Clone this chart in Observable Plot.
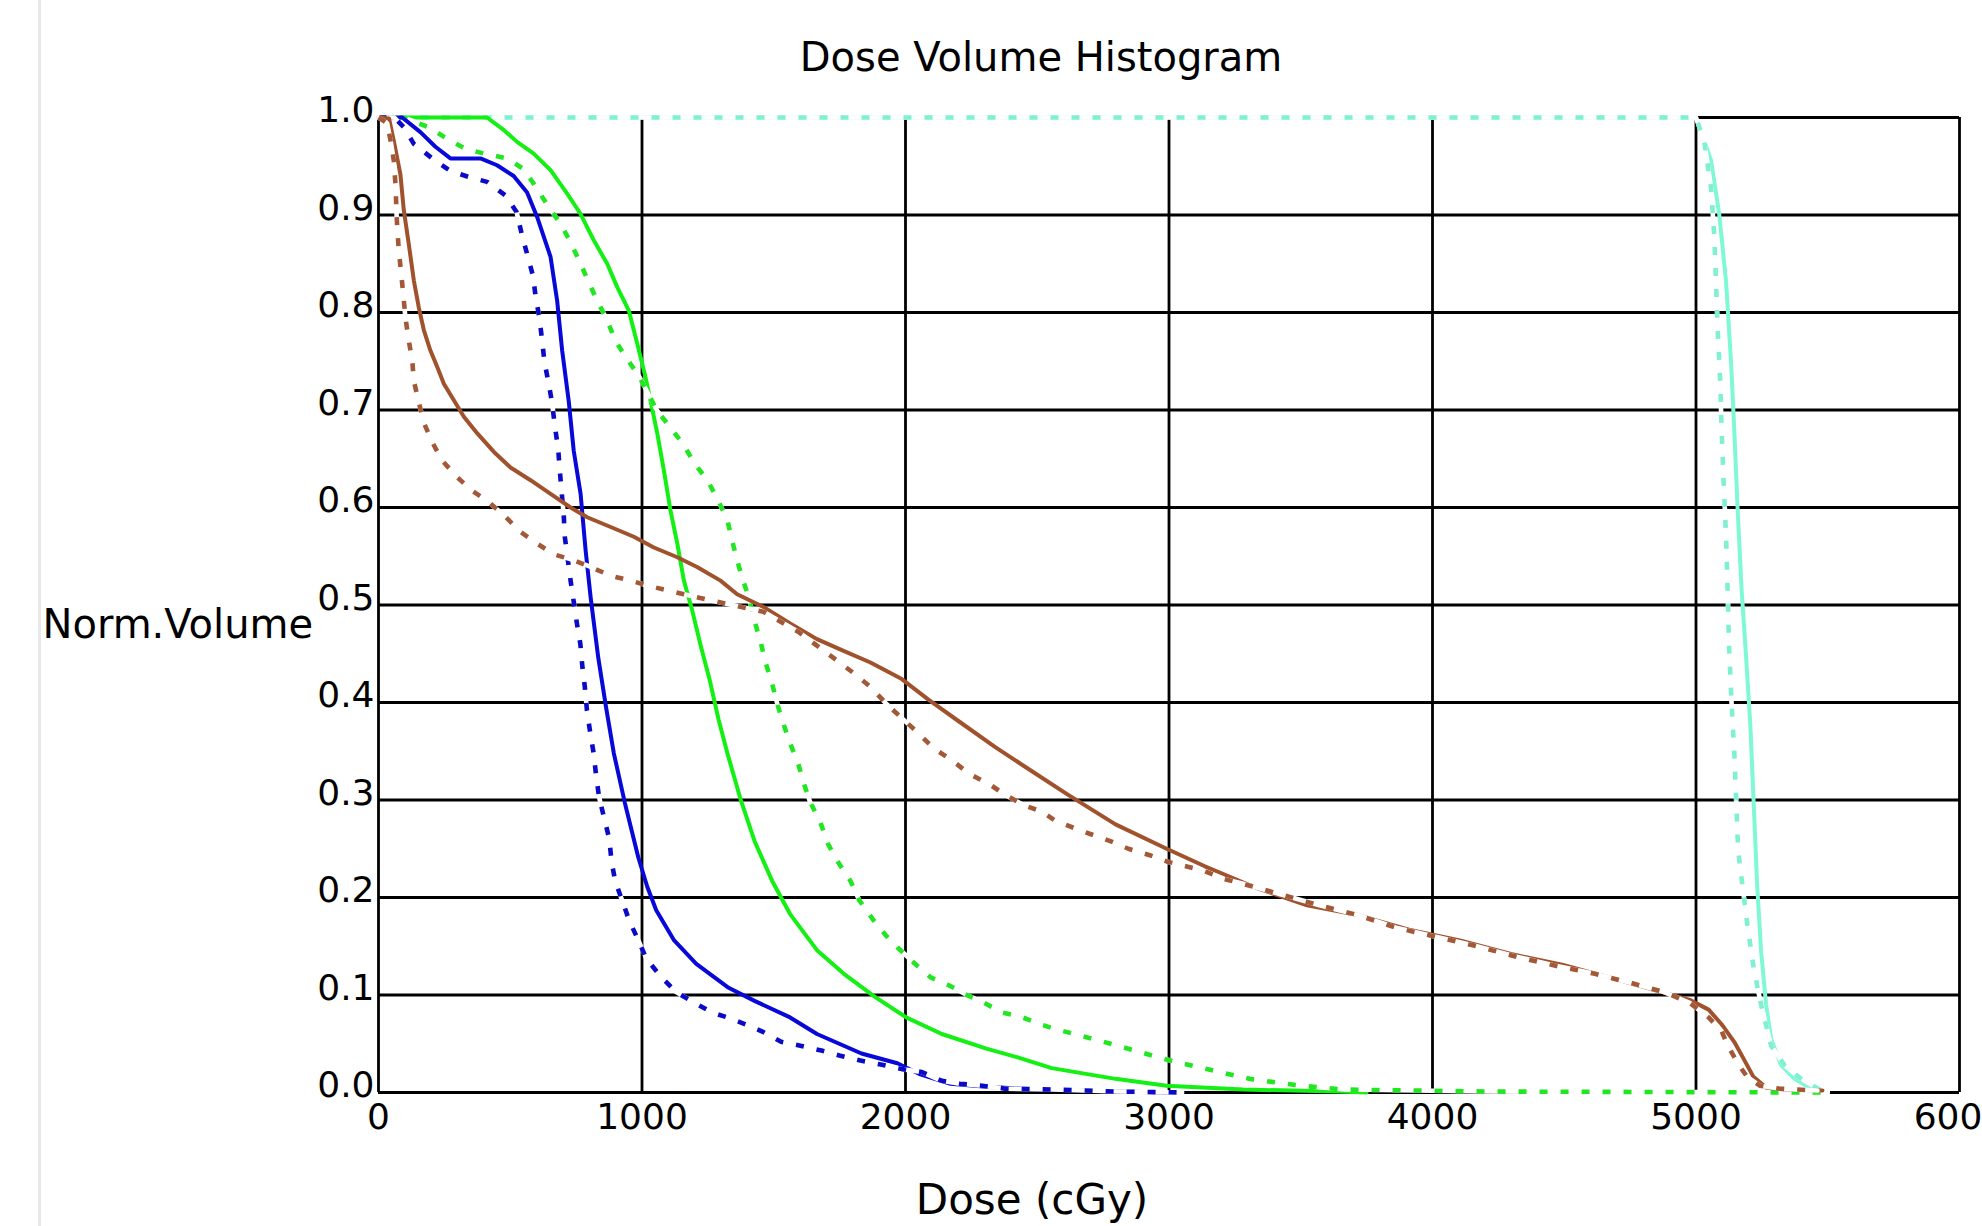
<!DOCTYPE html>
<html>
<head>
<meta charset="utf-8">
<script src="https://cdn.jsdelivr.net/npm/d3@7"></script>
<script src="https://cdn.jsdelivr.net/npm/@observablehq/plot@0.6"></script>
<style>
  html, body { margin: 0; padding: 0; background: #fff; overflow: hidden; }
  #wrap { position: relative; width: 1982px; height: 1226px; }
  #wrap svg { max-width: none; display: block; }
  #edge { position: absolute; left: 38px; top: 0; width: 3px; height: 1226px; background: #e8e8e8; }
</style>
</head>
<body>
<div id="wrap"></div>
<script>
// ---------- data ----------
const titleText = "Dose Volume Histogram";
const xLabel = "Dose (cGy)";
const yLabel = "Norm.Volume";
const xTicks = [0, 1000, 2000, 3000, 4000, 5000, 6000];
const yTicks = [0, 0.1, 0.2, 0.3, 0.4, 0.5, 0.6, 0.7, 0.8, 0.9, 1.0];

const cyanSolidDose = [0, 5000, 5006, 5057, 5088, 5114, 5133, 5145, 5158, 5173, 5190, 5206, 5219, 5232, 5247, 5266, 5285, 5323, 5374, 5437, 5470];
const cyanSolidVol  = [1.0, 1.0, 0.995, 0.956, 0.901, 0.832, 0.749, 0.681, 0.598, 0.516, 0.447, 0.378, 0.296, 0.213, 0.145, 0.090, 0.055, 0.028, 0.014, 0.004, 0];

const cyanDotDose = [0, 5000, 5031, 5057, 5069, 5076, 5082, 5092, 5097, 5105, 5114, 5120, 5126, 5135, 5145, 5152, 5160, 5176, 5195, 5221, 5247, 5285, 5336, 5399, 5462, 5500];
const cyanDotVol  = [1.0, 1.0, 0.976, 0.928, 0.880, 0.832, 0.784, 0.729, 0.681, 0.626, 0.571, 0.516, 0.454, 0.399, 0.351, 0.303, 0.248, 0.213, 0.172, 0.124, 0.090, 0.048, 0.028, 0.014, 0.004, 0];

const greenSolidDose = [0, 412, 476, 526, 589, 653, 716, 767, 817, 868, 906, 950, 982, 1013, 1032, 1058, 1083, 1108, 1134, 1159, 1190, 1224, 1257, 1291, 1325, 1376, 1427, 1494, 1562, 1664, 1765, 1884, 2003, 2138, 2307, 2426, 2555, 2797, 2991, 3281, 3645, 3750];
const greenSolidVol  = [1.0, 1.0, 0.987, 0.975, 0.963, 0.946, 0.922, 0.901, 0.874, 0.850, 0.826, 0.802, 0.768, 0.734, 0.710, 0.676, 0.638, 0.597, 0.563, 0.525, 0.495, 0.457, 0.423, 0.382, 0.347, 0.299, 0.258, 0.217, 0.183, 0.146, 0.122, 0.098, 0.077, 0.060, 0.045, 0.036, 0.025, 0.014, 0.007, 0.003, 0.001, 0];

const greenDotDose = [0, 95, 191, 261, 330, 400, 488, 551, 602, 646, 691, 729, 767, 798, 830, 868, 899, 944, 988, 1058, 1108, 1159, 1197, 1248, 1286, 1324, 1342, 1361, 1380, 1405, 1427, 1452, 1469, 1494, 1515, 1537, 1562, 1591, 1613, 1638, 1677, 1706, 1740, 1791, 1825, 1875, 1926, 1969, 2036, 2096, 2164, 2240, 2291, 2367, 2435, 2511, 2570, 2725, 2870, 3015, 3160, 3306, 3499, 3668, 4200, 5500];
const greenDotVol  = [1.0, 1.0, 0.990, 0.978, 0.968, 0.963, 0.958, 0.947, 0.927, 0.908, 0.891, 0.872, 0.850, 0.831, 0.812, 0.792, 0.771, 0.752, 0.735, 0.699, 0.682, 0.664, 0.646, 0.628, 0.609, 0.587, 0.566, 0.546, 0.528, 0.508, 0.484, 0.460, 0.441, 0.419, 0.397, 0.378, 0.358, 0.339, 0.318, 0.298, 0.277, 0.255, 0.238, 0.217, 0.197, 0.178, 0.161, 0.149, 0.132, 0.118, 0.110, 0.099, 0.093, 0.082, 0.078, 0.070, 0.065, 0.054, 0.043, 0.032, 0.023, 0.014, 0.007, 0.003, 0.001, 0];

const blueSolidDose = [0, 90, 159, 216, 273, 387, 450, 513, 564, 602, 653, 678, 697, 722, 741, 767, 786, 805, 834, 863, 893, 935, 986, 1020, 1054, 1122, 1206, 1325, 1427, 1562, 1664, 1833, 1969, 2053, 2171, 2307, 2500, 2800, 3000];
const blueSolidVol  = [1.0, 1.0, 0.985, 0.970, 0.958, 0.958, 0.951, 0.940, 0.923, 0.898, 0.857, 0.812, 0.761, 0.709, 0.658, 0.614, 0.556, 0.508, 0.446, 0.396, 0.348, 0.297, 0.241, 0.211, 0.187, 0.156, 0.132, 0.108, 0.094, 0.077, 0.060, 0.040, 0.030, 0.019, 0.009, 0.006, 0.003, 0.001, 0];

const blueDotDose = [0, 60, 96, 134, 204, 273, 343, 412, 482, 524, 545, 564, 586, 596, 611, 621, 630, 646, 659, 669, 682, 688, 695, 703, 707, 729, 740, 753, 766, 774, 783, 791, 803, 817, 825, 837, 856, 876, 884, 898, 927, 952, 983, 1017, 1074, 1130, 1186, 1266, 1325, 1401, 1461, 1528, 1601, 1681, 1749, 1825, 1901, 1986, 2062, 2138, 2206, 2291, 2376, 2560, 2800, 3050];
const blueDotVol  = [1.0, 1.0, 0.990, 0.973, 0.958, 0.945, 0.939, 0.934, 0.920, 0.903, 0.879, 0.860, 0.838, 0.817, 0.794, 0.771, 0.749, 0.727, 0.707, 0.684, 0.660, 0.638, 0.616, 0.592, 0.570, 0.525, 0.505, 0.481, 0.460, 0.436, 0.416, 0.392, 0.370, 0.347, 0.327, 0.303, 0.282, 0.260, 0.238, 0.217, 0.195, 0.176, 0.158, 0.137, 0.118, 0.103, 0.094, 0.082, 0.077, 0.069, 0.062, 0.052, 0.048, 0.043, 0.038, 0.033, 0.029, 0.024, 0.021, 0.012, 0.009, 0.007, 0.004, 0.003, 0.001, 0];

const brownSolidDose = [0, 40, 58, 83, 96, 115, 134, 153, 172, 197, 223, 248, 286, 324, 375, 438, 501, 577, 653, 729, 792, 881, 969, 1045, 1134, 1209, 1298, 1361, 1461, 1562, 1664, 1765, 1867, 1986, 2087, 2206, 2342, 2477, 2613, 2797, 2991, 3136, 3330, 3524, 3717, 3911, 4104, 4298, 4492, 4685, 4830, 4976, 5048, 5097, 5145, 5182, 5218, 5266, 5340, 5480];
const brownSolidVol  = [1.0, 0.999, 0.976, 0.942, 0.905, 0.870, 0.833, 0.805, 0.782, 0.761, 0.744, 0.727, 0.710, 0.693, 0.676, 0.657, 0.641, 0.628, 0.614, 0.600, 0.590, 0.580, 0.570, 0.559, 0.549, 0.539, 0.525, 0.511, 0.498, 0.481, 0.465, 0.453, 0.441, 0.424, 0.403, 0.380, 0.354, 0.330, 0.306, 0.275, 0.250, 0.232, 0.210, 0.192, 0.182, 0.167, 0.156, 0.142, 0.131, 0.117, 0.106, 0.095, 0.085, 0.070, 0.052, 0.034, 0.016, 0.005, 0.003, 0.002];

const brownDotDose = [0, 33, 46, 58, 65, 68, 71, 77, 86, 94, 102, 115, 128, 134, 153, 172, 204, 242, 299, 356, 412, 476, 539, 602, 665, 741, 805, 881, 957, 1020, 1096, 1159, 1240, 1325, 1461, 1596, 1681, 1740, 1799, 1867, 1926, 1986, 2047, 2107, 2180, 2241, 2325, 2374, 2446, 2519, 2567, 2652, 2713, 2785, 2846, 2931, 2991, 3064, 3136, 3209, 3281, 3427, 3571, 3716, 3862, 4008, 4153, 4323, 4467, 4612, 4758, 4879, 4976, 5048, 5097, 5121, 5158, 5194, 5242, 5315, 5461];
const brownDotVol  = [1.0, 0.994, 0.976, 0.956, 0.929, 0.905, 0.887, 0.864, 0.840, 0.819, 0.795, 0.771, 0.751, 0.730, 0.708, 0.687, 0.667, 0.648, 0.631, 0.617, 0.607, 0.592, 0.575, 0.563, 0.552, 0.546, 0.539, 0.530, 0.525, 0.520, 0.515, 0.511, 0.506, 0.501, 0.493, 0.472, 0.455, 0.443, 0.431, 0.416, 0.399, 0.384, 0.369, 0.353, 0.340, 0.327, 0.315, 0.306, 0.295, 0.288, 0.279, 0.270, 0.264, 0.257, 0.250, 0.243, 0.237, 0.232, 0.227, 0.219, 0.214, 0.203, 0.192, 0.182, 0.169, 0.160, 0.151, 0.139, 0.130, 0.122, 0.112, 0.103, 0.092, 0.077, 0.063, 0.048, 0.030, 0.016, 0.007, 0.004, 0.002];

// ---------- build ----------
const rows = (dose, vol) => dose.map((d, i) => ({dose: d, vol: vol[i]}));
const FONT = "DejaVu Sans";
const DASH = "8,13";

function solid(dose, vol, color) {
  return Plot.line(rows(dose, vol), {x: "dose", y: "vol", stroke: color, strokeWidth: 4, strokeLinejoin: "round"});
}
function dotted(dose, vol, color) {
  const data = rows(dose, vol);
  return [
    Plot.line(data, {x: "dose", y: "vol", stroke: "white", strokeWidth: 4.6}),
    Plot.line(data, {x: "dose", y: "vol", stroke: color, strokeWidth: 4.6, strokeDasharray: DASH, strokeLinecap: "butt"})
  ];
}

const chart = Plot.plot({
  width: 1982,
  height: 1226,
  marginLeft: 378,
  marginRight: 23,
  marginTop: 117,
  marginBottom: 134,
  style: {fontFamily: FONT, background: "white", color: "black"},
  x: {domain: [0, 6000]},
  y: {domain: [0, 1]},
  marks: [
    Plot.gridY(yTicks, {stroke: "black", strokeOpacity: 1, strokeWidth: 2.8}),
    Plot.gridX(xTicks, {stroke: "black", strokeOpacity: 1, strokeWidth: 2.8}),
    Plot.axisY(yTicks, {tickSize: 0, tickPadding: 4, fontSize: 36, dy: -7, tickFormat: d => d.toFixed(1), label: null}),
    Plot.axisX(xTicks, {tickSize: 0, tickPadding: 11, fontSize: 36, tickFormat: d => String(d), label: null}),
    solid(cyanSolidDose, cyanSolidVol, "#7ff8d6"),
    dotted(cyanDotDose, cyanDotVol, "#80f0d2"),
    solid(greenSolidDose, greenSolidVol, "#14f014"),
    dotted(greenDotDose, greenDotVol, "#22e622"),
    solid(blueSolidDose, blueSolidVol, "#0808d8"),
    dotted(blueDotDose, blueDotVol, "#0a0ac8"),
    solid(brownSolidDose, brownSolidVol, "#a0522d"),
    dotted(brownDotDose, brownDotVol, "#a35838"),
    Plot.text([titleText], {text: d => d, frameAnchor: "top", dx: -128, dy: -47, lineAnchor: "bottom", fontSize: 40, fill: "black"}),
    Plot.text([xLabel], {text: d => d, frameAnchor: "bottom", dx: -137, dy: 121, lineAnchor: "bottom", fontSize: 42, fill: "black"}),
    Plot.text([yLabel], {text: d => d, frameAnchor: "left", textAnchor: "start", dx: -336, dy: 33, lineAnchor: "bottom", fontSize: 40, fill: "black"})
  ]
});

const wrap = document.getElementById("wrap");
wrap.appendChild(chart);
const edge = document.createElement("div");
edge.id = "edge";
wrap.appendChild(edge);
</script>
</body>
</html>
